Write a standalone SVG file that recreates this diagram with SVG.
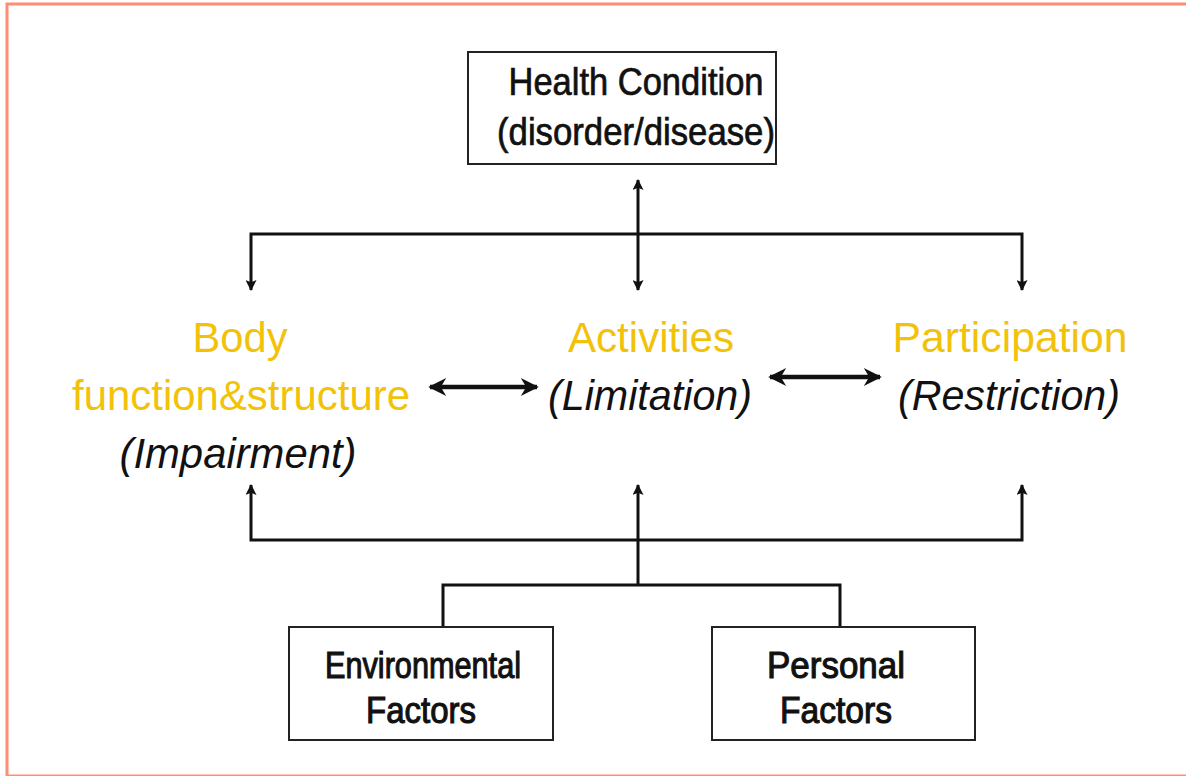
<svg xmlns="http://www.w3.org/2000/svg" width="1186" height="776" viewBox="0 0 1186 776">
<defs>
<marker id="ah" viewBox="0 0 10 10" refX="9" refY="5" markerWidth="13" markerHeight="11" markerUnits="userSpaceOnUse" orient="auto-start-reverse">
<path d="M0,0 L10,5 L0,10 L2,5 z" fill="#111"/>
</marker>
<marker id="ahb" viewBox="0 0 10 10" refX="9" refY="5" markerWidth="20" markerHeight="18" markerUnits="userSpaceOnUse" orient="auto-start-reverse">
<path d="M0,0 L10,5 L0,10 L3,5 z" fill="#111"/>
</marker>
<style>
.box{fill:#fff;stroke:#222;stroke-width:2}
.line{fill:none;stroke:#111;stroke-width:3}
.dbl{fill:none;stroke:#111;stroke-width:4.5}
.t{font-family:"Liberation Sans",Arial,sans-serif;text-anchor:middle;fill:#111}
.hc{font-size:38px;stroke:#111;stroke-width:0.7}
.y{font-size:42px;fill:#F2C20A}
.i{font-size:42px;font-style:italic}
.f{font-size:37px;stroke:#111;stroke-width:1.1}
</style>
</defs>
<rect x="7" y="4" width="1220" height="772" fill="#fff" stroke="#FF8C73" stroke-width="3"/>
<g id="connectors">
<path class="line" d="M638,180 L638,290" marker-start="url(#ah)" marker-end="url(#ah)"/>
<path class="line" d="M251,290 L251,234 L1022,234 L1022,290" marker-start="url(#ah)" marker-end="url(#ah)"/>
<path class="dbl" d="M430,387 L537,387" marker-start="url(#ahb)" marker-end="url(#ahb)"/>
<path class="dbl" d="M770,377 L880,377" marker-start="url(#ahb)" marker-end="url(#ahb)"/>
<path class="line" d="M251,485 L251,540 L1022,540 L1022,485" marker-start="url(#ah)" marker-end="url(#ah)"/>
<path class="line" d="M638,585 L638,485" marker-end="url(#ah)"/>
<path class="line" d="M443,627 L443,585 L840,585 L840,627"/>
</g>
<g id="health">
<rect class="box" x="468" y="52" width="308" height="112"/>
<text class="t hc" x="636" y="95" textLength="255" lengthAdjust="spacingAndGlyphs">Health Condition</text>
<text class="t hc" x="636" y="145" textLength="278" lengthAdjust="spacingAndGlyphs">(disorder/disease)</text>
</g>
<g id="body">
<text class="t y" x="240" y="352" textLength="95" lengthAdjust="spacingAndGlyphs">Body</text>
<text class="t y" x="241" y="410" textLength="338" lengthAdjust="spacingAndGlyphs">function&amp;structure</text>
<text class="t i" x="238" y="468" textLength="237" lengthAdjust="spacingAndGlyphs">(Impairment)</text>
</g>
<g id="activities">
<text class="t y" x="651" y="352" textLength="166" lengthAdjust="spacingAndGlyphs">Activities</text>
<text class="t i" x="650" y="410" textLength="204" lengthAdjust="spacingAndGlyphs">(Limitation)</text>
</g>
<g id="participation">
<text class="t y" x="1010" y="352" textLength="235" lengthAdjust="spacingAndGlyphs">Participation</text>
<text class="t i" x="1009" y="410" textLength="222" lengthAdjust="spacingAndGlyphs">(Restriction)</text>
</g>
<g id="environmental">
<rect class="box" x="289" y="627" width="264" height="113"/>
<text class="t f" x="423" y="678" textLength="196" lengthAdjust="spacingAndGlyphs">Environmental</text>
<text class="t f" x="421" y="723" textLength="110" lengthAdjust="spacingAndGlyphs">Factors</text>
</g>
<g id="personal">
<rect class="box" x="712" y="627" width="263" height="113"/>
<text class="t f" x="836" y="678" textLength="138" lengthAdjust="spacingAndGlyphs">Personal</text>
<text class="t f" x="836" y="723" textLength="112" lengthAdjust="spacingAndGlyphs">Factors</text>
</g>
</svg>
